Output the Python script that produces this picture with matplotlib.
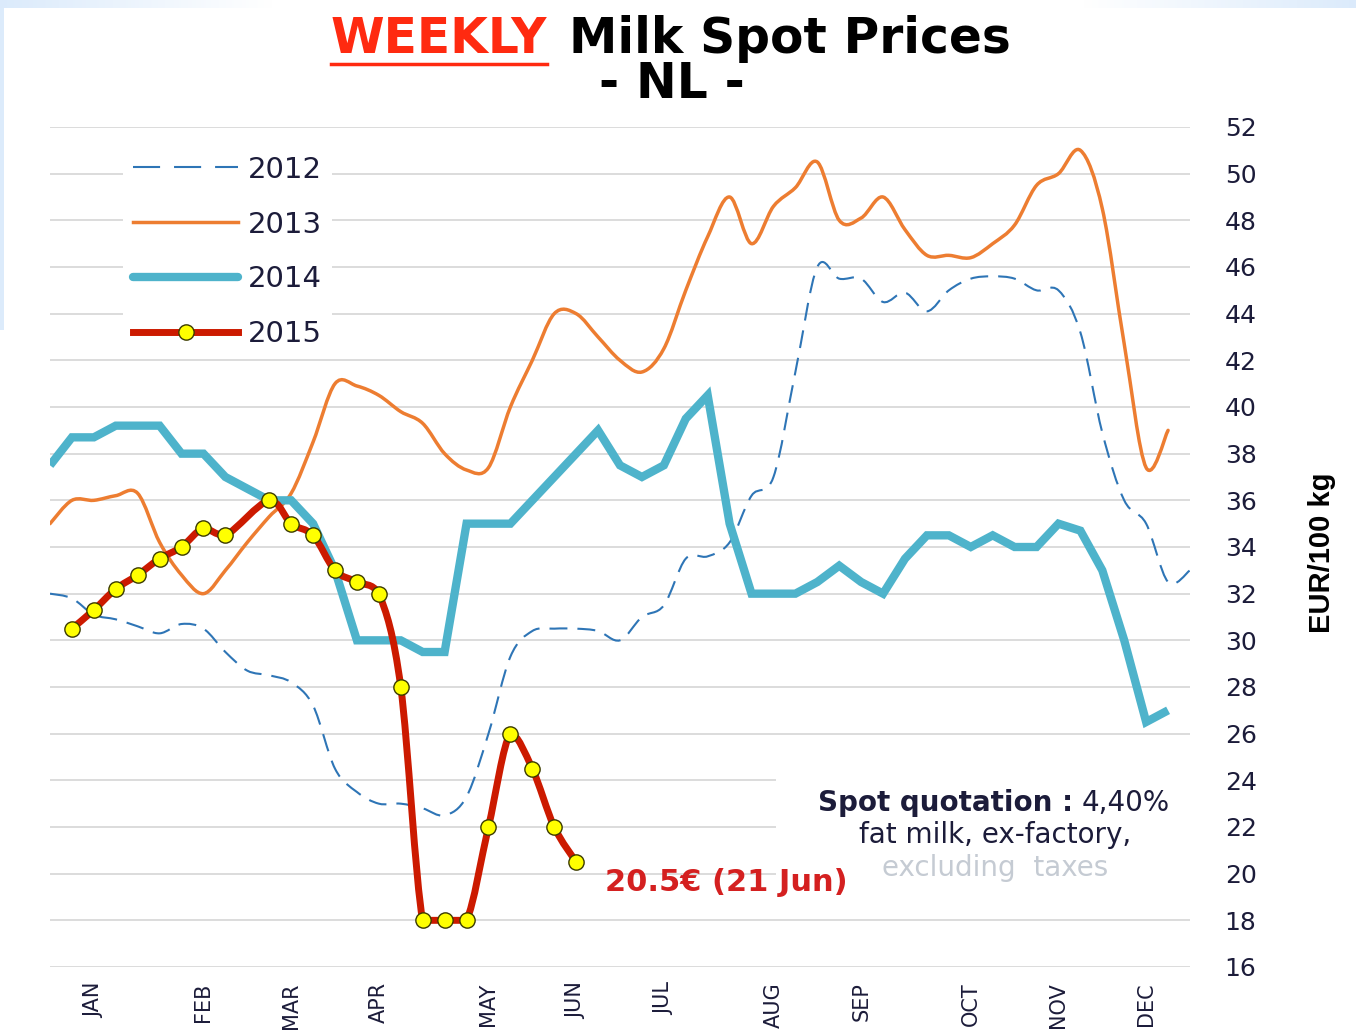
import numpy as np
import matplotlib
matplotlib.use('Agg')
import matplotlib.pyplot as plt
from matplotlib.path import Path
from matplotlib.patches import PathPatch, Rectangle
from matplotlib.lines import Line2D

W, H = 1356, 1031

# weekly spot prices, EUR/100 kg (week index 0..52 on the x axis)
y2012 = [32.0, 31.8, 31.1, 30.9, 30.6, 30.3, 30.7, 30.5, 29.5, 28.7,
         28.5, 28.2, 27.2, 24.5, 23.5, 23.0, 23.0, 22.8, 22.5, 23.3,
         26.0, 29.3, 30.4, 30.5, 30.5, 30.4, 30.0, 31.0, 31.5, 33.5,
         33.6, 34.2, 36.2, 37.0, 41.5, 46.0, 45.5, 45.5, 44.5, 44.9,
         44.1, 45.0, 45.5, 45.6, 45.5, 45.0, 45.0, 43.2, 38.9, 36.0,
         35.0, 32.5, 33.0]
y2013 = [35.0, 36.0, 36.0, 36.2, 36.3, 34.2, 32.8, 32.0, 33.0, 34.2,
         35.3, 36.3, 38.5, 41.0, 40.9, 40.5, 39.8, 39.3, 38.0, 37.3,
         37.4, 40.0, 42.0, 44.0, 44.0, 43.0, 42.0, 41.5, 42.5, 45.0,
         47.3, 49.0, 47.0, 48.6, 49.4, 50.5, 48.0, 48.1, 49.0, 47.6,
         46.5, 46.5, 46.4, 47.0, 47.8, 49.5, 50.0, 51.0, 48.5, 42.7,
         37.4, 39.0]
y2014 = [37.5, 38.7, 38.7, 39.2, 39.2, 39.2, 38.0, 38.0, 37.0, 36.5,
         36.0, 36.0, 35.0, 33.0, 30.0, 30.0, 30.0, 29.5, 29.5, 35.0,
         35.0, 35.0, 36.0, 37.0, 38.0, 39.0, 37.5, 37.0, 37.5, 39.5,
         40.5, 35.0, 32.0, 32.0, 32.0, 32.5, 33.2, 32.5, 32.0, 33.5,
         34.5, 34.5, 34.0, 34.5, 34.0, 34.0, 35.0, 34.7, 33.0, 30.0,
         26.5, 27.0]
weeks2015 = [1, 2, 3, 4, 5, 6, 7, 8, 10, 11, 12, 13, 14, 15, 16, 17,
             18, 19, 20, 21, 22, 23, 24]
y2015 = [30.5, 31.3, 32.2, 32.8, 33.5, 34.0, 34.8, 34.5, 36.0, 35.0,
         34.5, 33.0, 32.5, 32.0, 28.0, 18.0, 18.0, 18.0, 22.0, 26.0,
         24.5, 22.0, 20.5]

months = ['JAN', 'FEB', 'MAR', 'APR', 'MAY', 'JUN', 'JUL', 'AUG', 'SEP',
          'OCT', 'NOV', 'DEC']
month_weeks = [2, 7, 11, 15, 20, 24, 28, 33, 37, 42, 46, 50]
years = ['2012', '2013', '2014', '2015']

c2012 = '#2e75b6'
c2013 = '#ed7d31'
c2014 = '#4eb3cb'
c2015 = '#cc1a00'
dark = '#1c1c3a'


def smooth_path(x, y, clip=False):
    # smoothed line: cubic bezier through every point
    pts = np.column_stack([x, y]).astype(float)
    n = len(pts)
    verts = [pts[0]]
    codes = [Path.MOVETO]
    for i in range(n - 1):
        p0 = pts[i - 1] if i > 0 else pts[i]
        p1 = pts[i]
        p2 = pts[i + 1]
        p3 = pts[i + 2] if i + 2 < n else pts[i + 1]
        c1 = p1 + (p2 - p0) / 6
        c2 = p2 - (p3 - p1) / 6
        if clip:
            # keep the curve from dipping under flat stretches
            lo, hi = min(p1[1], p2[1]), max(p1[1], p2[1])
            c1[1] = np.clip(c1[1], lo, hi)
            c2[1] = np.clip(c2[1], lo, hi)
        verts += [c1, c2, p2]
        codes += [Path.CURVE4] * 3
    return Path(verts, codes)


fig = plt.figure(figsize=(W / 100, H / 100), dpi=100)
fig.patch.set_facecolor('white')

# slide background bits (light blue strips)
t = np.linspace(0, 1, 600)
a = np.clip(np.maximum(1 - t / 0.2, (t - 0.8) / 0.2), 0, 1)
blue = np.array([0.86, 0.92, 0.985])
grad = (1 - a)[:, None] * np.ones(3) + a[:, None] * blue
bg = fig.add_axes([0, 1 - 8 / H, 1, 8 / H])
bg.imshow(grad[None, :, :], aspect='auto')
bg.axis('off')
fig.add_artist(Rectangle((0, 1 - 330 / H), 4 / W, 322 / H,
                         transform=fig.transFigure, color='#dcebfb', lw=0))

ax = fig.add_axes([50 / W, 1 - 967 / H, 1140 / W, 840 / H])
ax.set_xlim(0, 52)
ax.set_ylim(16, 52)

x12 = np.arange(len(y2012))
x13 = np.arange(len(y2013))
x14 = np.arange(len(y2014))
ax.add_patch(PathPatch(smooth_path(x12, y2012), fill=False, edgecolor=c2012,
                       lw=1.5, ls=(0, (8.6, 4.8)), zorder=2))
ax.add_patch(PathPatch(smooth_path(x13, y2013), fill=False, edgecolor=c2013,
                       lw=2.5, zorder=3, joinstyle='round', capstyle='round'))
ax.plot(x14, y2014, color=c2014, lw=6, zorder=4,
        solid_joinstyle='miter', solid_capstyle='butt')
ax.add_patch(PathPatch(smooth_path(weeks2015, y2015, clip=True), fill=False,
                       edgecolor=c2015, lw=5, zorder=5,
                       joinstyle='round', capstyle='round'))
ax.plot(weeks2015, y2015, ls='none', marker='o', ms=11, mfc='#ffff00',
        mec='#3a3a00', mew=1, zorder=6)

# white box behind the note
ax.add_patch(Rectangle((33.1, 19.3), 18.9, 5.3, color='white', lw=0,
                       zorder=1.5))

ax.set_yticks(np.arange(16, 53, 2))
ax.yaxis.tick_right()
ax.tick_params(axis='y', length=0, pad=25, labelsize=18, labelcolor=dark)
ax.set_xticks(month_weeks)
ax.set_xticklabels(months, rotation=90)
ax.tick_params(axis='x', length=0, pad=11, labelsize=15, labelcolor=dark)
ax.grid(axis='y', color='#d9d9d9', lw=1.3)
ax.set_axisbelow(True)
for s in ax.spines.values():
    s.set_visible(False)

handles = [
    Line2D([], [], color=c2012, lw=1.5, ls=(0, (13, 6.7))),
    Line2D([], [], color=c2013, lw=2.5),
    Line2D([], [], color=c2014, lw=6, solid_capstyle='round'),
    Line2D([], [], color=c2015, lw=5, marker='o', ms=11, mfc='#ffff00',
           mec='#3a3a00'),
]
leg = ax.legend(handles, years, loc='upper left',
                bbox_to_anchor=(0.064, 0.978), borderaxespad=0,
                frameon=True, fancybox=False, edgecolor='none',
                facecolor='white', framealpha=1, fontsize=21,
                handlelength=3.6, handletextpad=0.34, labelspacing=0.92,
                borderpad=0.35, numpoints=1)
for txt in leg.get_texts():
    txt.set_color(dark)


def fx(px):
    return px / W


def fy(py):
    return 1 - py / H


# title
t1 = fig.text(0, fy(39), 'WEEKLY', color='#ff2a10', fontsize=35,
              weight='bold', va='center', ha='left')
t2 = fig.text(0, fy(39), 'Milk Spot Prices', color='black', fontsize=35,
              weight='bold', va='center', ha='left')
# note, first line: bold part + plain part
n1 = fig.text(0, fy(803), 'Spot quotation :', ha='left', va='center',
              fontsize=20, weight='bold', color=dark)
n2 = fig.text(0, fy(803), '4,40%', ha='left', va='center',
              fontsize=20, color=dark)
fig.canvas.draw()
w1 = t1.get_window_extent().width
w2 = t2.get_window_extent().width
gap = 22
start = 671 - (w1 + gap + w2) / 2
t1.set_x(fx(start))
t2.set_x(fx(start + w1 + gap))
nw1 = n1.get_window_extent().width
nw2 = n2.get_window_extent().width
nstart = 994 - (nw1 + 8 + nw2) / 2
n1.set_x(fx(nstart))
n2.set_x(fx(nstart + nw1 + 8))
fig.canvas.draw()
bb = t1.get_window_extent()
fig.add_artist(Line2D([bb.x0 / W, bb.x1 / W], [(bb.y0 - 1) / H] * 2,
                      color='#ff2a10', lw=2.5, transform=fig.transFigure))
fig.text(fx(672), fy(84), '- NL -', color='black', fontsize=35,
         weight='bold', ha='center', va='center')

ax.text(25.3, 19.6, '20.5€ (21 Jun)', color='#d42020', fontsize=22,
        weight='bold', ha='left', va='center', zorder=7)
fig.text(fx(995), fy(835), 'fat milk, ex-factory,', ha='center',
         va='center', fontsize=20, color=dark)
fig.text(fx(995), fy(868), 'excluding  taxes', ha='center', va='center',
         fontsize=20, color='#c5cbd3')

fig.text(fx(1322), fy(553), 'EUR/100 kg', rotation=90, ha='center',
         va='center', fontsize=21, weight='bold', color='black',
         family=['Liberation Sans Narrow', 'Liberation Sans', 'DejaVu Sans'])

fig.savefig('out.png', dpi=100)
